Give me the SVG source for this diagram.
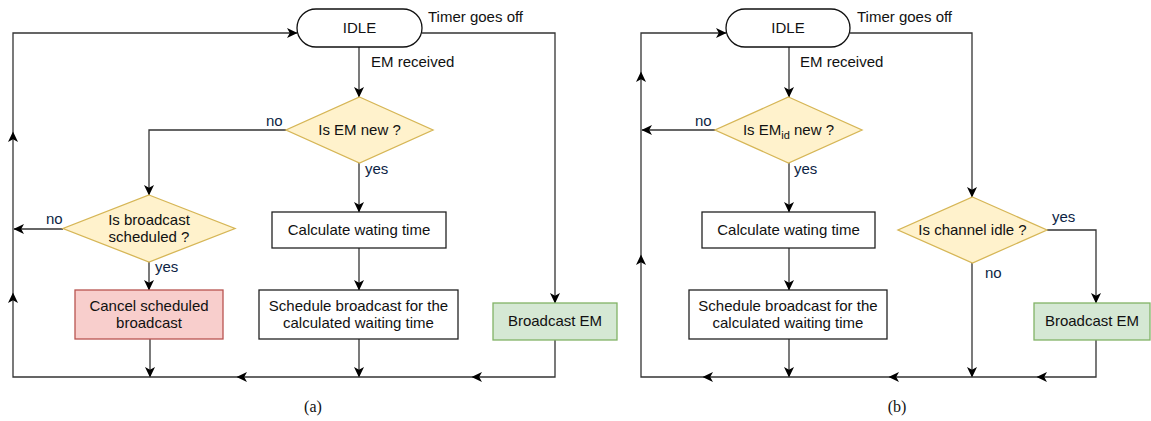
<svg xmlns="http://www.w3.org/2000/svg" width="1151" height="421" viewBox="0 0 1151 421">
<style>
.t{font-family:"Liberation Sans",Arial,sans-serif;font-size:15px;fill:#111}
.c{text-anchor:middle}
.lb{font-family:"Liberation Sans",Arial,sans-serif;font-size:15px;fill:#0d1f45}
.cap{font-family:"Liberation Serif","Times New Roman",serif;font-size:16px;fill:#111;text-anchor:middle}
.box{fill:#fff;stroke:#222;stroke-width:1.3}
.dia{fill:#fff2cc;stroke:#d6b656;stroke-width:1.3}
.red{fill:#f8cecc;stroke:#b85450;stroke-width:1.3}
.grn{fill:#d5e8d4;stroke:#82b366;stroke-width:1.3}
.pill{fill:#fff;stroke:#111;stroke-width:1.3}
.e{fill:none;stroke:#333;stroke-width:1.3}
.a{marker-end:url(#ah)}
</style>
<defs>
<marker id="ah" markerUnits="userSpaceOnUse" viewBox="0 0 11 10" refX="10" refY="5" markerWidth="11" markerHeight="10" orient="auto">
<path d="M10.5,5 L0,0 L2.8,5 L0,10 Z" fill="#000"/>
</marker>
</defs>

<g id="connectors">
<!-- panel a -->
<path class="e a" d="M359,47 V97"/>
<path class="e a" d="M359,163 V212"/>
<path class="e a" d="M359,248 V290"/>
<path class="e a" d="M359,339 V377"/>
<path class="e a" d="M286,130 H149 V195"/>
<path class="e a" d="M149,262 V290"/>
<path class="e a" d="M150,339 V377"/>
<path class="e a" d="M63,229 H14"/>
<path class="e a" d="M422,33 H555 V303"/>
<path class="e a" d="M555,340 V377 H472"/>
<path class="e a" d="M472,377 H237"/>
<path class="e a" d="M237,377 H13 V293"/>
<path class="e a" d="M13,293 V132"/>
<path class="e a" d="M13,132 V33 H297"/>
<!-- panel b -->
<path class="e a" d="M789,47 V97"/>
<path class="e a" d="M789,163 V212"/>
<path class="e a" d="M789,248 V290"/>
<path class="e a" d="M789,339 V377"/>
<path class="e a" d="M715,130 H642"/>
<path class="e a" d="M850,33 H972 V197"/>
<path class="e a" d="M972,263 V377"/>
<path class="e a" d="M1047,230 H1096 V303"/>
<path class="e a" d="M1096,340 V377 H1037"/>
<path class="e a" d="M1037,377 H889"/>
<path class="e a" d="M889,377 H703"/>
<path class="e a" d="M703,377 H641 V255"/>
<path class="e a" d="M641,255 V72"/>
<path class="e a" d="M641,72 V33 H726"/>
</g>

<g id="labels">
<text class="t" x="428" y="22">Timer goes off</text>
<text class="t" x="371" y="67">EM received</text>
<text class="lb" x="365" y="174">yes</text>
<text class="lb" x="266" y="126">no</text>
<text class="lb" x="46" y="224">no</text>
<text class="lb" x="155" y="272">yes</text>
<text class="t" x="857" y="22">Timer goes off</text>
<text class="t" x="800" y="67">EM received</text>
<text class="lb" x="695" y="126">no</text>
<text class="lb" x="794" y="174">yes</text>
<text class="lb" x="1052" y="222">yes</text>
<text class="lb" x="985" y="278">no</text>
<text class="cap" x="313" y="412">(a)</text>
<text class="cap" x="897" y="412">(b)</text>
</g>

<g id="a-idle">
<rect class="pill" x="297" y="9" width="125" height="38" rx="19" ry="19"/>
<text class="t c" x="359.5" y="33">IDLE</text>
</g>
<g id="a-isnew">
<polygon class="dia" points="359.5,97 433,130 359.5,163 286,130"/>
<text class="t c" x="359.5" y="135">Is EM new ?</text>
</g>
<g id="a-scheduled">
<polygon class="dia" points="149,195 235,228.5 149,262 63,228.5"/>
<text class="t c" x="149" y="225">Is broadcast</text>
<text class="t c" x="149" y="242">scheduled ?</text>
</g>
<g id="a-cancel">
<rect class="red" x="75" y="290" width="148" height="49"/>
<text class="t c" x="149" y="311">Cancel scheduled</text>
<text class="t c" x="149" y="328">broadcast</text>
</g>
<g id="a-calc">
<rect class="box" x="272" y="212" width="174" height="36"/>
<text class="t c" x="359" y="235">Calculate wating time</text>
</g>
<g id="a-schedule">
<rect class="box" x="259" y="290" width="199" height="49"/>
<text class="t c" x="358.5" y="311">Schedule broadcast for the</text>
<text class="t c" x="358.5" y="328">calculated waiting time</text>
</g>
<g id="a-broadcast">
<rect class="grn" x="493" y="303" width="124" height="37"/>
<text class="t c" x="555" y="326">Broadcast EM</text>
</g>

<g id="b-idle">
<rect class="pill" x="726" y="9" width="124" height="38" rx="19" ry="19"/>
<text class="t c" x="788" y="33">IDLE</text>
</g>
<g id="b-isnew">
<polygon class="dia" points="788.5,97 862,130 788.5,163 715,130"/>
<text class="t c" x="788.5" y="135">Is EM<tspan font-size="11" dy="4">id</tspan><tspan dy="-4"> new ?</tspan></text>
</g>
<g id="b-calc">
<rect class="box" x="702" y="212" width="173" height="36"/>
<text class="t c" x="788.5" y="235">Calculate wating time</text>
</g>
<g id="b-schedule">
<rect class="box" x="689" y="290" width="198" height="49"/>
<text class="t c" x="788" y="311">Schedule broadcast for the</text>
<text class="t c" x="788" y="328">calculated waiting time</text>
</g>
<g id="b-channel">
<polygon class="dia" points="972.5,197 1047,230 972.5,263 898,230"/>
<text class="t c" x="972.5" y="235">Is channel idle ?</text>
</g>
<g id="b-broadcast">
<rect class="grn" x="1034" y="303" width="116" height="37"/>
<text class="t c" x="1092" y="326">Broadcast EM</text>
</g>
</svg>
